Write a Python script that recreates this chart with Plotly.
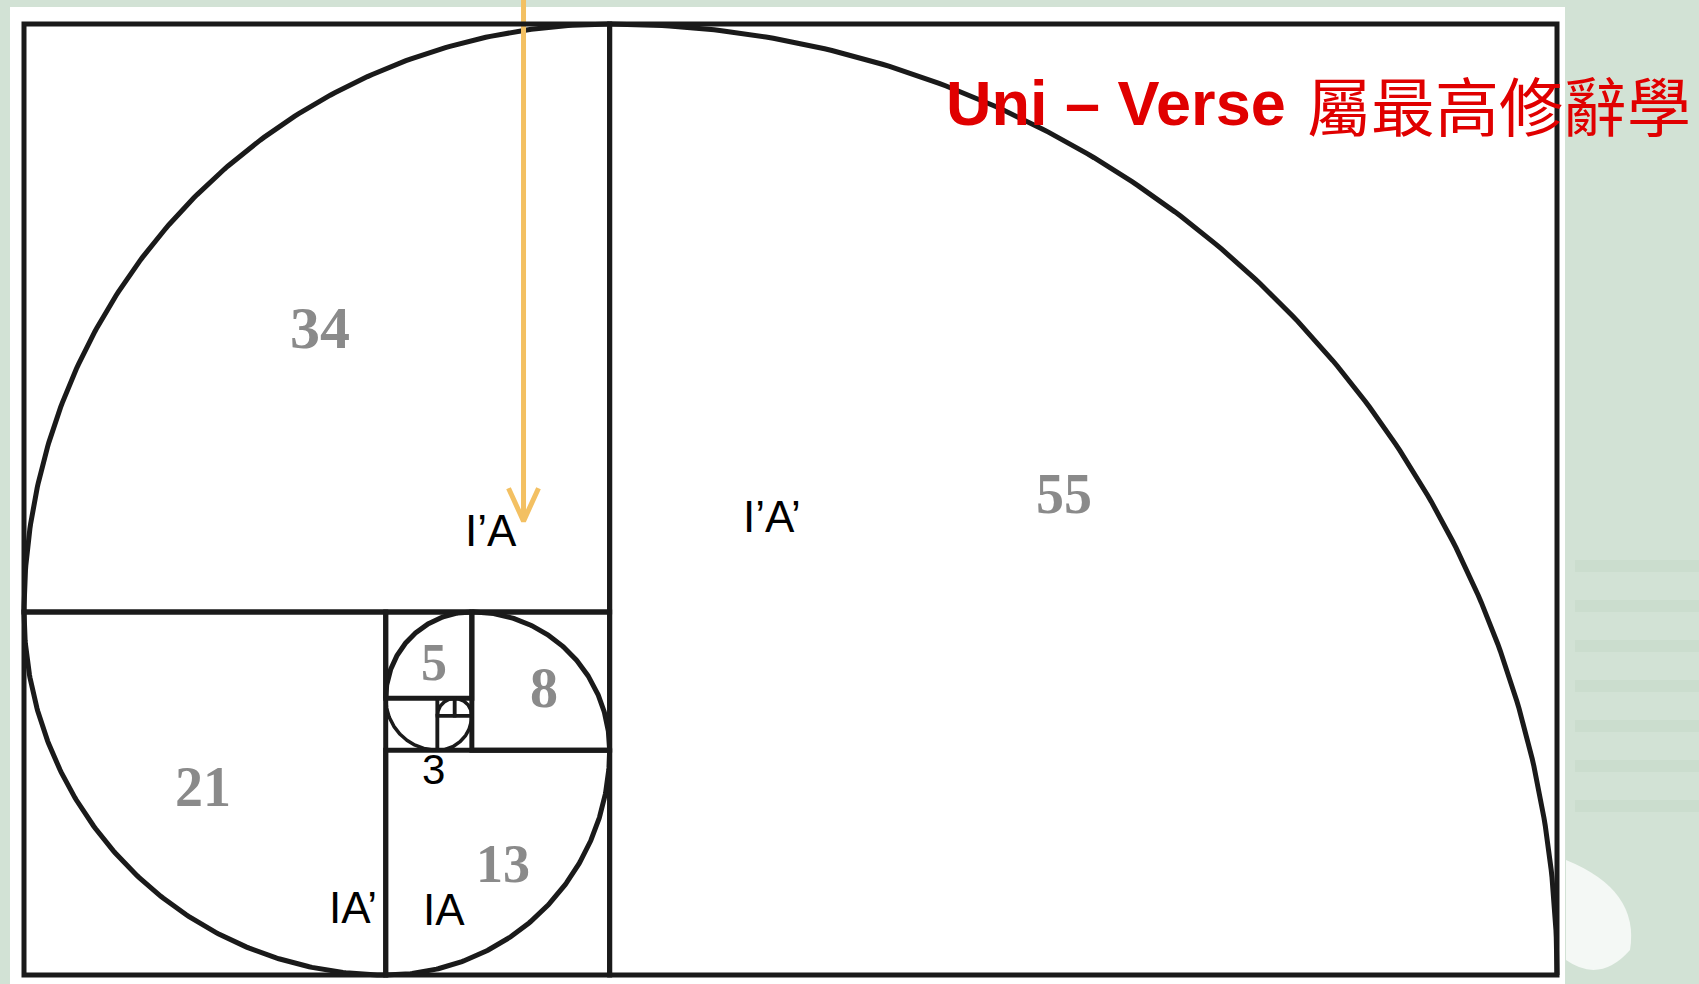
import numpy as np
import plotly.graph_objects as go

# ---- data (Fibonacci squares, in square units; y grows downward) ----
sq_size = [55, 34, 21, 13, 8, 5, 3, 2, 1, 1]
sq_x = [34, 0, 0, 21, 26, 21, 21, 24, 25, 24]
sq_y = [0, 0, 34, 42, 34, 34, 39, 40, 39, 39]

# quarter-arc of the spiral inside each square
arc_cx = [34, 34, 21, 21, 26, 26, 24, 24, 25, 25]
arc_cy = [55, 34, 34, 42, 42, 39, 39, 40, 40, 40]
arc_t0 = [90, 90, 180, 270, 0, 90, 180, 270, 0, 90]
arc_t1 = [0, 180, 270, 360, 90, 180, 270, 360, 90, 180]

# grey numbers written in squares
num_text = ["34", "55", "21", "13", "8", "5"]
num_x = [17.2, 60.4, 10.4, 27.8, 30.2, 23.8]
num_y = [17.6, 27.2, 44.1, 48.6, 38.4, 36.9]
num_size = [60, 56, 56, 54, 56, 52]

# black labels
lab_text = ["I’A", "I’A’", "IA’", "IA", "3"]
lab_x = [27.1, 43.4, 19.1, 24.4, 23.8]
lab_y = [29.3, 28.5, 51.1, 51.2, 43.1]
lab_size = [44, 44, 44, 44, 42]

# golden arrow
arrow_x = [29.0, 29.0]
arrow_y = [-1.5, 28.75]
head_x = [28.13, 29.0, 29.87]
head_y = [26.85, 28.75, 26.85]

title_latin = "Uni – Verse"
title_cjk = "屬最高修辭學"

W, H = 1699, 984
PX0, PX1 = 24, 1557     # pixel of x=0 and x=89
PY0, PY1 = 24, 975      # pixel of y=0 and y=55
sx = (PX1 - PX0) / 89.0
sy = (PY1 - PY0) / 55.0
xr = [-PX0 / sx, (W - PX0) / sx]
yr = [(H - PY0) / sy, -PY0 / sy]

LINE = "#1a1a1a"
BG = "#d2e2d5"
fig = go.Figure()

# background page (white sheet on pale green)
shapes = [
    dict(type="rect", xref="paper", yref="paper", x0=10 / W, x1=1565 / W, y0=0, y1=1 - 7 / H,
         fillcolor="white", line=dict(width=0), layer="below"),
]
# faint decorative stripes at right
for yy in [560, 600, 640, 680, 720, 760, 800]:
    shapes.append(dict(type="rect", xref="paper", yref="paper",
                       x0=1575 / W, x1=1699 / W, y0=1 - (yy + 12) / H, y1=1 - yy / H,
                       fillcolor="rgba(170,198,175,0.18)", line=dict(width=0), layer="below"))
shapes.append(dict(type="path", xref="paper", yref="paper",
                   path="M %f %f Q %f %f %f %f Q %f %f %f %f Z" % (
                       1566 / W, 1 - 860 / H, 1640 / W, 1 - 890 / H, 1630 / W, 1 - 950 / H,
                       1600 / W, 1 - 984 / H, 1566 / W, 1 - 960 / H),
                   fillcolor="rgba(255,255,255,0.75)", line=dict(width=0), layer="below"))

# squares
for s, x0, y0 in zip(sq_size, sq_x, sq_y):
    lw = 5 if s >= 5 else 3.5
    shapes.append(dict(type="rect", xref="x", yref="y", x0=x0, x1=x0 + s, y0=y0, y1=y0 + s,
                       line=dict(color=LINE, width=lw), fillcolor="rgba(0,0,0,0)"))

# spiral arcs
for s, cx, cy, t0, t1 in zip(sq_size, arc_cx, arc_cy, arc_t0, arc_t1):
    t = np.radians(np.linspace(t0, t1, 200))
    fig.add_trace(go.Scatter(x=cx + s * np.cos(t), y=cy - s * np.sin(t), mode="lines",
                             line=dict(color=LINE, width=5 if s >= 5 else 3.5),
                             hoverinfo="skip", showlegend=False))

# arrow
fig.add_trace(go.Scatter(x=arrow_x, y=arrow_y, mode="lines",
                         line=dict(color="#f3c062", width=5), hoverinfo="skip", showlegend=False))
fig.add_trace(go.Scatter(x=head_x, y=head_y, mode="lines",
                         line=dict(color="#f3c062", width=5), hoverinfo="skip", showlegend=False))

ann = []
for t, x, y, fs in zip(num_text, num_x, num_y, num_size):
    ann.append(dict(x=x, y=y, xref="x", yref="y", text="<b>" + t + "</b>", showarrow=False,
                    font=dict(family="Liberation Serif, Times New Roman, serif", size=fs, color="#8a8a8a")))
for t, x, y, fs in zip(lab_text, lab_x, lab_y, lab_size):
    ann.append(dict(x=x, y=y, xref="x", yref="y", text=t, showarrow=False,
                    font=dict(family="Liberation Sans, Arial, sans-serif", size=fs, color="black")))

ann.append(dict(x=944 / W, y=1 - 103 / H, xref="paper", yref="paper", xanchor="left", yanchor="middle",
                text="<b>" + title_latin + "</b>", showarrow=False,
                font=dict(family="Liberation Sans, Arial, sans-serif", size=63, color="#e00000")))
ann.append(dict(x=1305 / W, y=1 - 103 / H, xref="paper", yref="paper", xanchor="left", yanchor="middle",
                text=title_cjk, showarrow=False,
                font=dict(family="Noto Sans CJK TC, sans-serif", size=64, color="#e00000")))

fig.update_layout(
    width=W, height=H, margin=dict(l=0, r=0, t=0, b=0),
    paper_bgcolor=BG, plot_bgcolor="rgba(0,0,0,0)",
    xaxis=dict(range=xr, visible=False, showgrid=False, zeroline=False, fixedrange=True),
    yaxis=dict(range=yr, visible=False, showgrid=False, zeroline=False, fixedrange=True),
    shapes=shapes, annotations=ann, showlegend=False,
)
fig.write_html("out.html", config={"displayModeBar": False},
               post_script="document.body.style.margin='0';document.body.style.background='%s';"
                           "document.body.style.overflow='hidden';" % BG)
